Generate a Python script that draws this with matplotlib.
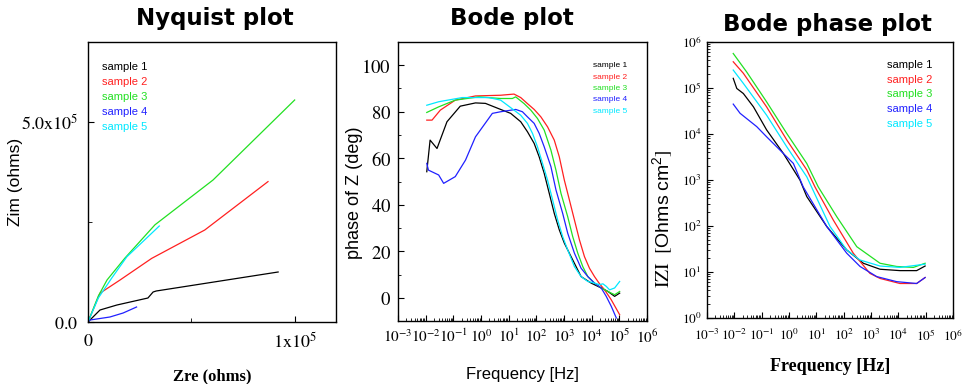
import matplotlib
matplotlib.use("Agg")
import matplotlib.pyplot as plt
import numpy as np
from matplotlib.ticker import FixedLocator, FixedFormatter, FuncFormatter, LogLocator, MultipleLocator

plt.rcParams['mathtext.fontset'] = 'stix'

samples = ["sample 1", "sample 2", "sample 3", "sample 4", "sample 5"]
colors = ["black", "#ff2020", "#22e022", "#2020ff", "#00e8ff"]

# Nyquist plot (Zre, Zim in ohms)
zre1 = [0, 0.58e4, 1.4e4, 2.9e4, 3.15e4, 3.3e4, 9.2e4]
zim1 = [0, 3.0e4, 4.25e4, 6.0e4, 7.5e4, 7.75e4, 1.25e5]
zre2 = [0, 0.58e4, 1.55e4, 3.08e4, 5.65e4, 8.71e4]
zim2 = [0, 0.72e5, 1.05e5, 1.59e5, 2.3e5, 3.51e5]
zre3 = [0, 0.5e4, 0.92e4, 1.79e4, 3.24e4, 6.05e4, 1.0e5]
zim3 = [0, 0.65e5, 1.05e5, 1.6e5, 2.43e5, 3.55e5, 5.55e5]
zre4 = [0, 0.1e4, 1.06e4, 1.7e4, 2.35e4]
zim4 = [0, 0.5e4, 1.25e4, 2.25e4, 3.75e4]
zre5 = [0, 0.5e4, 1.15e4, 1.88e4, 3.45e4]
zim5 = [0, 0.6e5, 1.1e5, 1.63e5, 2.4e5]

nyq_xticks = [0, 1e5]
nyq_xlabels = ["$\\mathrm{0}$", "$\\mathrm{1x10^5}$"]
nyq_yticks = [0, 5e5]
nyq_ylabels = ["$\\mathrm{0.0}$", "$\\mathrm{5.0x10^5}$"]

# Bode plot: phase (deg) vs log10 frequency
lf_ph1 = [-1.96, -1.84, -1.59, -1.23, -0.75, -0.2, 0.16, 0.709, 1.073, 1.436, 1.679, 1.921, 2.103, 2.285,
          2.467, 2.648, 2.830, 3.012, 3.255, 3.618, 3.982, 4.345, 4.588, 4.830, 5.012]
ph1 = [54.2, 67.8, 64.2, 75.7, 82.4, 83.8, 83.6, 81.0, 79.3, 75.7, 71.4, 66.4, 60.6, 53.5,
       44.9, 36.3, 29.2, 23.5, 17.7, 9.1, 6.3, 4.2, 2.7, 0.6, 2.0]
lf_ph2 = [-1.96, -1.77, -1.47, -0.93, -0.2, 0.709, 1.193, 1.436, 1.679, 1.921, 2.164, 2.406, 2.648, 2.830,
          3.012, 3.194, 3.376, 3.558, 3.739, 3.921, 4.103, 4.285, 4.467, 4.709, 5.012]
ph2 = [76.4, 76.4, 80.7, 85.0, 86.8, 87.1, 87.6, 86.1, 83.5, 81.0, 77.8, 73.5, 67.8, 60.6,
       50.6, 42.1, 33.5, 24.9, 17.7, 12.7, 9.1, 6.0, 3.4, -0.9, -7.3]
lf_ph3 = [-1.96, -1.53, -0.93, -0.08, 0.709, 1.133, 1.255, 1.558, 1.800, 2.042, 2.285, 2.527, 2.709, 2.891,
          3.133, 3.315, 3.497, 3.679, 3.861, 4.103, 4.345, 4.588, 4.830, 5.012]
ph3 = [79.7, 82.1, 85.0, 86.4, 85.7, 85.7, 86.4, 83.5, 80.7, 77.1, 72.1, 63.5, 54.9, 44.9,
       34.9, 26.3, 19.2, 13.4, 9.1, 6.3, 4.2, 2.7, 1.3, 2.7]
lf_ph4 = [-1.96, -1.90, -1.53, -1.35, -0.93, -0.56, -0.2, 0.41, 0.709, 1.255, 1.497, 1.679, 1.921, 2.103,
          2.285, 2.527, 2.709, 2.952, 3.133, 3.376, 3.618, 3.861, 4.103, 4.345, 4.527, 4.709, 4.891]
ph4 = [57.8, 54.9, 52.8, 49.2, 52.1, 59.2, 69.2, 79.3, 80.0, 81.0, 80.0, 77.8, 75.0, 70.7,
       64.9, 56.4, 46.4, 36.3, 27.8, 19.2, 12.7, 9.1, 6.3, 4.2, 0.6, -3.7, -8.7]
lf_ph5 = [-1.96, -1.53, -0.68, 0.28, 0.709, 1.193, 1.436, 1.679, 1.861, 2.042, 2.224, 2.406, 2.588, 2.770,
          2.952, 3.133, 3.376, 3.618, 3.861, 4.103, 4.285, 4.406, 4.527, 4.648, 4.830, 5.012]
ph5 = [82.8, 84.3, 86.1, 86.1, 85.0, 80.7, 78.5, 75.0, 70.7, 64.9, 57.8, 50.6, 42.1, 33.5,
       26.3, 20.6, 13.4, 9.1, 7.0, 6.3, 5.6, 6.0, 4.9, 3.4, 4.2, 7.0]

# Bode |Z| plot: log10 |Z| vs log10 frequency
lf_z1 = [-2.04, -1.91, -1.67, -1.30, -0.82, -0.21, 0.40, 0.65, 1.38, 2.11, 2.72, 3.33, 4.06, 4.67, 4.98]
lz1 = [5.21, 4.99, 4.88, 4.59, 4.09, 3.58, 3.0, 2.64, 1.99, 1.48, 1.19, 1.06, 1.03, 1.03, 1.13]
lf_z2 = [-2.04, -1.67, -0.82, -0.08, 0.65, 0.95, 1.62, 2.35, 2.96, 3.33, 4.06, 4.67, 4.98]
lz2 = [5.57, 5.32, 4.59, 3.87, 3.22, 2.85, 2.13, 1.41, 0.97, 0.86, 0.75, 0.75, 0.88]
lf_z3 = [-2.04, -1.55, -0.82, -0.08, 0.65, 1.07, 1.75, 2.48, 3.33, 3.94, 4.55, 4.98]
lz3 = [5.75, 5.35, 4.70, 4.01, 3.36, 2.85, 2.20, 1.55, 1.19, 1.12, 1.10, 1.19]
lf_z4 = [-2.04, -1.79, -1.18, -0.82, -0.33, 0.16, 0.52, 1.38, 2.11, 2.60, 3.21, 3.94, 4.67, 4.98]
lz4 = [4.65, 4.45, 4.16, 3.94, 3.65, 3.36, 2.85, 1.99, 1.41, 1.12, 0.90, 0.79, 0.75, 0.88]
lf_z5 = [-2.04, -1.67, -0.82, -0.08, 0.65, 1.50, 2.11, 2.60, 3.33, 4.06, 4.98]
lz5 = [5.39, 5.10, 4.41, 3.72, 3.07, 1.99, 1.48, 1.26, 1.13, 1.10, 1.17]

W, H = 970, 384
fig = plt.figure(figsize=(W / 100, H / 100), dpi=100)


def box(l, t, r, b):
    return [l / W, 1 - b / H, (r - l) / W, (b - t) / H]


def pow_fmt(v, pos):
    return "$\\mathrm{10^{%d}}$" % round(np.log10(v))


def legend(ax, x, y, size, spacing):
    leg = ax.legend(loc="upper left", bbox_to_anchor=(x, y), frameon=False,
                    handlelength=0, handletextpad=0, borderaxespad=0, borderpad=0,
                    labelspacing=spacing, labelcolor="linecolor",
                    prop={"family": "Liberation Sans", "size": size})
    for h in leg.legend_handles:
        h.set_visible(False)


# ---- Nyquist ----
ax1 = fig.add_axes(box(88, 42, 336, 322))
for zr, zi, c, s in zip([zre1, zre2, zre3, zre4, zre5], [zim1, zim2, zim3, zim4, zim5], colors, samples):
    ax1.plot(zr, zi, color=c, lw=0.9, label=s)
ax1.set_xlim(0, 1.2e5)
ax1.set_ylim(0, 7e5)
ax1.xaxis.set_major_locator(FixedLocator(nyq_xticks))
ax1.xaxis.set_major_formatter(FixedFormatter(nyq_xlabels))
ax1.xaxis.set_minor_locator(FixedLocator([0.5e5]))
ax1.yaxis.set_major_locator(FixedLocator(nyq_yticks))
ax1.yaxis.set_major_formatter(FixedFormatter(nyq_ylabels))
ax1.yaxis.set_minor_locator(FixedLocator([2.5e5]))
ax1.tick_params(which="both", direction="in", labelsize=13, pad=7)
ax1.tick_params(which="major", length=4)
ax1.tick_params(which="minor", length=3)
ax1.set_ylabel("Zim (ohms)", family="Liberation Sans", fontsize=12.5)
ax1.yaxis.set_label_coords(-0.262, 0.5)
ax1.set_xlabel("Zre (ohms)", family="Liberation Serif", weight="bold", fontsize=12)
ax1.xaxis.set_label_coords(0.5, -0.165)
legend(ax1, 0.056, 0.93, 8, 0.47)

# ---- Bode phase ----
ax2 = fig.add_axes(box(398, 42, 647, 321))
for lf, ph, c, s in zip([lf_ph1, lf_ph2, lf_ph3, lf_ph4, lf_ph5], [ph1, ph2, ph3, ph4, ph5], colors, samples):
    ax2.plot(10 ** np.array(lf), ph, color=c, lw=0.9, label=s)
ax2.set_xscale("log")
ax2.set_xlim(1e-3, 1e6)
ax2.set_ylim(-10, 110)
ax2.xaxis.set_major_locator(LogLocator(base=10, numticks=12))
ax2.xaxis.set_minor_locator(LogLocator(base=10, subs=np.arange(2, 10), numticks=12))
ax2.xaxis.set_major_formatter(FuncFormatter(pow_fmt))
ax2.yaxis.set_major_locator(MultipleLocator(20))
ax2.yaxis.set_minor_locator(MultipleLocator(10))
ax2.yaxis.set_major_formatter(FuncFormatter(lambda v, p: "$\\mathrm{%d}$" % v))
ax2.tick_params(which="both", direction="in", labelsize=13.5, pad=5)
ax2.tick_params(axis="x", labelsize=11)
ax2.tick_params(which="major", length=4)
ax2.tick_params(which="minor", length=2)
ax2.set_ylabel("phase of Z (deg)", family="Liberation Sans", fontsize=13)
ax2.yaxis.set_label_coords(-0.14, 0.46)
ax2.set_xlabel("Frequency [Hz]", family="Liberation Sans", fontsize=12)
ax2.xaxis.set_label_coords(0.5, -0.165)
legend(ax2, 0.783, 0.93, 6, 0.42)

# ---- Bode |Z| ----
ax3 = fig.add_axes(box(707, 42, 953, 318))
for lf, lz, c, s in zip([lf_z1, lf_z2, lf_z3, lf_z4, lf_z5], [lz1, lz2, lz3, lz4, lz5], colors, samples):
    ax3.plot(10 ** np.array(lf), 10 ** np.array(lz), color=c, lw=0.9, label=s)
ax3.set_xscale("log")
ax3.set_yscale("log")
ax3.set_xlim(1e-3, 1e6)
ax3.set_ylim(1, 1e6)
for axis in (ax3.xaxis, ax3.yaxis):
    axis.set_major_locator(LogLocator(base=10, numticks=12))
    axis.set_minor_locator(LogLocator(base=10, subs=np.arange(2, 10), numticks=12))
    axis.set_major_formatter(FuncFormatter(pow_fmt))
ax3.tick_params(which="both", direction="in", labelsize=9.5, pad=4)
ax3.tick_params(axis="x", pad=7)
ax3.tick_params(which="major", length=4)
ax3.tick_params(which="minor", length=2)
ax3.set_ylabel("$\\mathrm{IZI}\\ \\ \\left[\\mathregular{Ohms\\ cm^{2}}\\right]$",
               family="Liberation Sans", fontsize=14)
ax3.yaxis.set_label_coords(-0.13, 0.36)
ax3.set_xlabel("Frequency [Hz]", family="Liberation Serif", weight="bold", fontsize=13)
ax3.xaxis.set_label_coords(0.5, -0.145)
legend(ax3, 0.732, 0.935, 8, 0.43)

for ax in (ax1, ax2, ax3):
    for sp in ax.spines.values():
        sp.set_linewidth(1)

fig.text(215 / W, 1 - 18 / H, "Nyquist plot", ha="center", va="center", fontsize=16.5, weight="bold")
fig.text(512 / W, 1 - 18 / H, "Bode plot", ha="center", va="center", fontsize=16.5, weight="bold")
fig.text(827 / W, 1 - 25 / H, "Bode phase plot", ha="center", va="center", fontsize=16.5, weight="bold")

fig.savefig("out.png", dpi=100)
